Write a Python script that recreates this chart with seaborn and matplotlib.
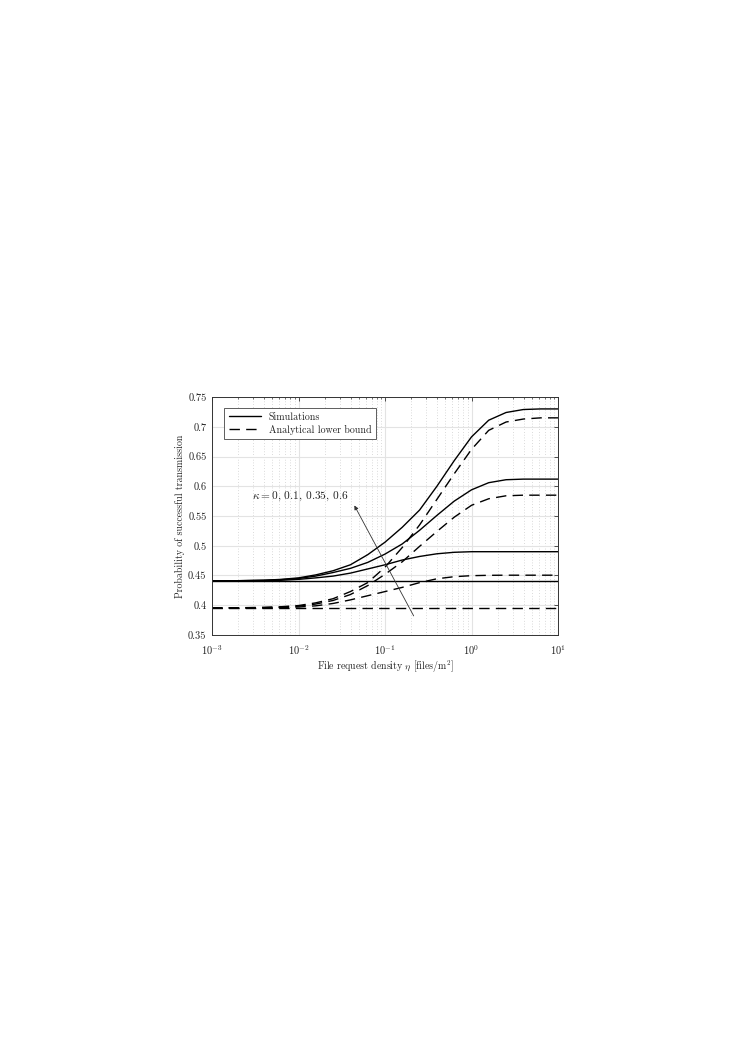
import matplotlib
matplotlib.use("Agg")
import matplotlib.pyplot as plt
from matplotlib.lines import Line2D
from matplotlib.ticker import LogLocator, NullFormatter
import seaborn as sns
import pandas as pd

# file request density (x axis), 5 points per decade
eta = [0.001, 0.00158, 0.00251, 0.00398, 0.00631,
       0.01, 0.0158, 0.0251, 0.0398, 0.0631,
       0.1, 0.158, 0.251, 0.398, 0.631,
       1.0, 1.58, 2.51, 3.98, 6.31, 10.0]

kappas = ["0", "0.1", "0.35", "0.6"]

# simulations (solid)
sim_k0 = [0.441] * 21
sim_k01 = [0.441, 0.441, 0.441, 0.441, 0.442, 0.4435, 0.446, 0.449, 0.454, 0.461,
           0.468, 0.476, 0.482, 0.4865, 0.489, 0.490, 0.490, 0.490, 0.490, 0.490, 0.490]
sim_k035 = [0.441, 0.441, 0.4415, 0.442, 0.443, 0.445, 0.449, 0.455, 0.462, 0.472,
            0.486, 0.503, 0.526, 0.551, 0.575, 0.594, 0.606, 0.611, 0.612, 0.612, 0.612]
sim_k06 = [0.441, 0.441, 0.4415, 0.442, 0.4435, 0.446, 0.451, 0.458, 0.468, 0.485,
           0.506, 0.531, 0.560, 0.600, 0.643, 0.683, 0.711, 0.724, 0.729, 0.730, 0.730]

# analytical lower bound (dashed)
ana_k0 = [0.3955] * 21
ana_k01 = [0.3955, 0.3955, 0.3955, 0.3955, 0.396, 0.397, 0.399, 0.403, 0.409, 0.416,
           0.423, 0.430, 0.438, 0.4445, 0.448, 0.4497, 0.4503, 0.4505, 0.4505, 0.4505, 0.4505]
ana_k035 = [0.3955, 0.3955, 0.3955, 0.396, 0.397, 0.3985, 0.402, 0.408, 0.418, 0.433,
            0.452, 0.473, 0.499, 0.524, 0.548, 0.568, 0.579, 0.584, 0.585, 0.585, 0.585]
ana_k06 = [0.3955, 0.3955, 0.396, 0.3965, 0.3975, 0.3995, 0.404, 0.411, 0.423, 0.438,
           0.464, 0.497, 0.535, 0.578, 0.621, 0.662, 0.694, 0.708, 0.713, 0.715, 0.715]

yticks = [0.35, 0.4, 0.45, 0.5, 0.55, 0.6, 0.65, 0.7, 0.75]
ytick_labels = ["0.35", "0.4", "0.45", "0.5", "0.55", "0.6", "0.65", "0.7", "0.75"]

sims = [sim_k0, sim_k01, sim_k035, sim_k06]
anas = [ana_k0, ana_k01, ana_k035, ana_k06]

rows = []
for k, s, a in zip(kappas, sims, anas):
    for x, ys, ya in zip(eta, s, a):
        rows.append({"eta": x, "p": ys, "kappa": k, "kind": "Simulations"})
        rows.append({"eta": x, "p": ya, "kappa": k, "kind": "Analytical lower bound"})
df = pd.DataFrame(rows)

sns.set_theme(style="white")
plt.rcParams["font.family"] = ["cmr10", "DejaVu Serif"]
plt.rcParams["mathtext.fontset"] = "cm"
plt.rcParams["axes.formatter.use_mathtext"] = True

fig = plt.figure(figsize=(7.44, 10.52), dpi=100)
ax = fig.add_axes([0.285, 0.3964, 0.465, 0.2262])

sns.lineplot(data=df, x="eta", y="p", hue="kappa", style="kind",
             palette=["black"] * 4,
             dashes={"Simulations": "", "Analytical lower bound": (7.5, 4.5)},
             estimator=None, sort=False, legend=False, linewidth=1.0, ax=ax)

ax.set_xscale("log")
ax.set_xlim(1e-3, 10)
ax.set_ylim(0.35, 0.75)
ax.set_yticks(yticks, ytick_labels)
ax.xaxis.set_minor_locator(LogLocator(base=10, subs=range(2, 10), numticks=20))
ax.xaxis.set_minor_formatter(NullFormatter())

ax.grid(True, which="major", color="#e3e3e3", linewidth=0.8, linestyle="-")
ax.grid(True, which="minor", axis="x", color="#b8b8b8", linewidth=0.5, linestyle=(0, (1, 3)))
ax.set_axisbelow(True)
for sp in ax.spines.values():
    sp.set_color("#333333")
    sp.set_linewidth(0.7)

ax.tick_params(which="both", direction="in", top=True, right=True,
               labelsize=7.5, colors="#333333", labelcolor="#222222")
ax.tick_params(which="major", length=3, width=0.6, pad=4)
ax.tick_params(which="minor", length=1.6, width=0.5)
ax.tick_params(axis="x", which="major", pad=6)

ax.set_xlabel(r"File request density $\eta$ [files/m$^2$]", fontsize=7.1, labelpad=1)
ax.set_ylabel("Probability of successful transmission", fontsize=7.1, labelpad=2)

handles = [Line2D([], [], color="black", lw=1.0, label="Simulations"),
           Line2D([], [], color="black", lw=1.0, dashes=(7.5, 4.5), label="Analytical lower bound")]
leg = ax.legend(handles=handles, loc="upper left", bbox_to_anchor=(0.035, 0.955),
                fontsize=7.2, fancybox=False, framealpha=1, edgecolor="#444444",
                borderaxespad=0, handlelength=3.2, labelspacing=0.3, borderpad=0.45)
leg.get_frame().set_linewidth(0.6)

ax.annotate("", xy=(0.0427, 0.5718), xytext=(0.222, 0.378),
            arrowprops=dict(arrowstyle="-|>", color="#333333", lw=0.6,
                            mutation_scale=6))
ax.text(0.00288, 0.5825, r"$\kappa = 0$, 0.1, 0.35, 0.6", fontsize=8.2,
        ha="left", va="center")

fig.savefig("out.png", dpi=100)
